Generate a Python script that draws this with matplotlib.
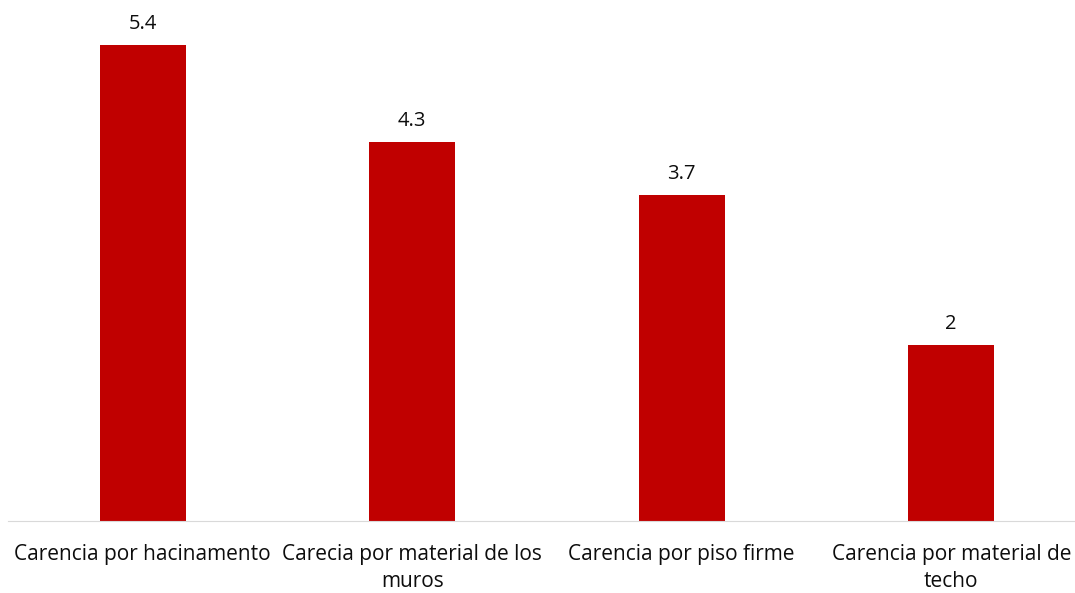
import matplotlib.pyplot as plt

categories = ["Carencia por hacinamento", "Carecia por material de los\nmuros",
              "Carencia por piso firme", "Carencia por material de\ntecho"]
values = [5.4, 4.3, 3.7, 2]
value_labels = ["5.4", "4.3", "3.7", "2"]

plt.rcParams['font.family'] = ['Open Sans', 'DejaVu Sans']

fig = plt.figure(figsize=(10.75, 5.93), dpi=100)
ax = fig.add_axes([8/1075, 72/593, 1078/1075, 529/593])

x = range(len(categories))
bars = ax.bar(x, values, width=0.32, color="#C00000")
for b, lab in zip(bars, value_labels):
    ax.annotate(lab, (b.get_x() + b.get_width()/2, b.get_height()),
                xytext=(0, 8), textcoords="offset points",
                ha="center", va="bottom", fontsize=14.5, color="#0D0D0D")

ax.set_xlim(-0.5, 3.5)
ax.set_ylim(0, 6)
ax.set_xticks(list(x))
ax.set_xticklabels(categories, fontsize=15, color="#0D0D0D", linespacing=1.35)
ax.tick_params(axis="x", length=0, pad=16.5)
ax.set_yticks([])
for s in ["top", "right", "left"]:
    ax.spines[s].set_visible(False)
ax.spines["bottom"].set_color("#D9D9D9")

fig.savefig("out.png", dpi=100)
